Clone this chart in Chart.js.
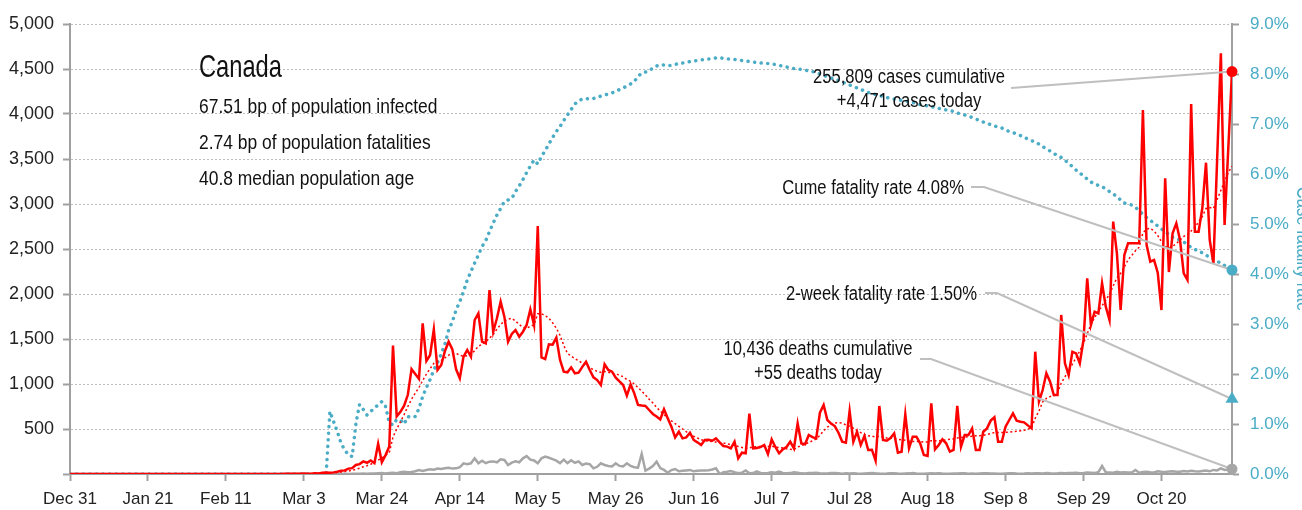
<!DOCTYPE html>
<html>
<head>
<meta charset="utf-8">
<script src="https://cdn.jsdelivr.net/npm/chart.js@4.4.1/dist/chart.umd.min.js"></script>
<style>
  html, body { margin: 0; padding: 0; background: #fff; }
  #wrap { width: 1302px; height: 510px; position: relative; }
</style>
</head>
<body>
<div id="wrap"><canvas id="chart"></canvas></div>
<script>
// x axis: day 0 = Dec 31, one tick every 21 days
const tickLabels = ['Dec 31', 'Jan 21', 'Feb 11', 'Mar 3', 'Mar 24', 'Apr 14', 'May 5', 'May 26',
  'Jun 16', 'Jul 7', 'Jul 28', 'Aug 18', 'Sep 8', 'Sep 29', 'Oct 20'];

const dailyCases = [
  0,0,0,0,0,0,0,0,0,0,
  0,0,0,0,0,0,0,0,0,0,
  0,0,0,0,0,1,0,1,0,0,
  0,1,0,0,0,0,1,0,0,0,
  0,0,0,0,0,0,1,0,0,0,
  0,1,0,1,0,1,0,0,2,4,
  4,3,2,5,3,3,8,6,15,16,
  14,18,25,35,40,60,65,100,110,140,
  125,150,120,335,130,210,305,1426,640,690,
  760,880,1165,1110,1056,1674,1255,1322,1607,1156,
  1211,1367,1470,1385,1163,1063,1304,1378,1304,1711,
  1785,1470,1452,2044,1581,1730,1915,1748,1470,1556,
  1600,1526,1581,1656,1830,1656,2756,1296,1278,1441,
  1437,1515,1267,1137,1130,1185,1119,1126,1190,1248,
  1156,1074,1044,989,1219,1156,1137,1070,1030,989,
  870,996,896,767,760,756,711,667,640,607,
  719,619,526,407,470,396,407,459,378,352,
  322,378,380,370,396,352,311,304,285,359,
  174,237,230,670,285,290,300,322,222,385,
  300,230,274,300,359,285,563,340,330,433,
  410,396,681,767,600,560,533,459,359,348,
  700,359,470,322,422,267,270,148,756,378,
  370,400,452,237,248,663,285,415,415,341,
  211,200,785,274,322,385,341,248,267,756,
  304,433,433,507,267,267,470,507,593,630,
  359,359,526,600,674,593,580,574,540,507,
  1359,804,933,1119,1026,878,878,1767,1230,1100,
  1359,1341,1230,1489,2174,1656,1804,1785,2119,1859,
  1711,2804,2452,1822,2433,2563,2563,2563,2563,4044,
  2544,2359,2378,2237,1822,3285,2244,2674,2785,2600,
  2230,2156,4111,2693,2693,2952,3459,2600,2340,3500,
  4674,2767,3620,4471
];

const avgCases = [
  0,0,0,0,0,0,0,0,0,0,
  0,0,0,0,0,0,0,0,0,0,
  0,0,0,0,0,0,0,0,0,0,
  0,0,0,0,0,0,0,0,0,0,
  0,0,0,0,0,0,0,0,0,0,
  0,0,0,0,0,0,1,1,1,1,
  2,3,3,3,3,4,4,6,8,10,
  12,15,18,22,27,33,42,53,65,80,
  92,108,130,155,175,210,235,410,500,580,
  660,750,830,900,960,1040,1110,1170,1230,1250,
  1260,1290,1320,1340,1340,1320,1310,1315,1330,1370,
  1420,1440,1470,1510,1550,1610,1660,1700,1720,1730,
  1700,1660,1630,1620,1640,1660,1780,1780,1760,1730,
  1680,1620,1540,1430,1340,1310,1280,1260,1230,1210,
  1180,1160,1140,1130,1140,1130,1120,1110,1100,1080,
  1050,1030,1000,960,920,880,830,790,740,700,
  660,620,590,560,530,500,470,445,420,400,
  380,370,365,360,355,350,345,335,325,318,
  305,295,285,290,300,305,305,305,305,310,
  300,295,290,280,275,270,300,315,330,350,
  370,390,430,480,520,550,565,570,565,545,
  530,510,480,460,440,425,420,410,420,410,
  400,400,395,385,380,375,365,360,360,360,
  355,355,370,370,370,375,380,385,390,400,
  405,410,415,420,425,425,430,440,450,460,
  460,460,465,465,470,475,480,485,500,510,
  620,700,800,840,860,870,900,1010,1080,1150,
  1220,1290,1370,1450,1560,1660,1740,1800,1870,1930,
  2000,2090,2180,2230,2300,2380,2430,2480,2520,2680,
  2720,2730,2700,2650,2580,2530,2510,2530,2560,2600,
  2640,2660,2700,2740,2800,2860,2950,2960,2950,3050,
  3150,3250,3350,3420
];

const dailyDeaths = [
  0,0,0,0,0,0,0,0,0,0,
  0,0,0,0,0,0,0,0,0,0,
  0,0,0,0,0,0,0,0,0,0,
  0,0,0,0,0,0,0,0,0,0,
  0,0,0,0,0,0,0,0,0,0,
  0,0,0,0,0,0,0,0,0,0,
  0,0,0,0,0,0,0,0,0,1,
  0,0,1,0,3,1,2,3,4,5,
  2,6,6,8,10,5,12,15,9,19,
  25,20,22,30,44,35,45,52,48,61,
  55,63,70,60,63,75,119,110,119,174,
  119,148,120,137,140,130,163,156,100,126,
  140,130,174,200,160,150,119,174,193,180,
  165,148,120,159,120,152,125,140,100,115,
  110,63,80,119,100,90,85,119,90,85,
  119,90,75,70,222,37,60,89,137,65,
  45,15,44,55,30,35,40,45,30,35,
  40,38,42,50,63,0,20,25,33,20,
  10,15,40,8,10,30,12,8,10,18,
  15,26,12,8,10,20,14,7,5,10,
  12,15,9,6,5,11,10,8,4,7,
  6,9,5,4,6,8,10,7,5,4,
  6,9,8,5,3,6,7,11,6,4,
  3,5,7,6,9,5,4,3,6,5,
  8,7,4,6,2,5,7,9,6,5,
  4,3,6,8,7,5,4,6,9,5,
  7,8,6,10,7,5,8,12,9,11,
  10,14,8,12,17,15,12,20,89,20,
  18,15,24,17,20,18,17,44,15,22,
  25,20,18,30,25,22,28,30,26,24,
  32,28,35,30,27,33,38,30,45,40,
  63,45,50,55
];

// cumulative case fatality rate, %
const fatalityRate = [
  0,0,0,0,0,0,0,0,0,0,
  0,0,0,0,0,0,0,0,0,0,
  0,0,0,0,0,0,0,0,0,0,
  0,0,0,0,0,0,0,0,0,0,
  0,0,0,0,0,0,0,0,0,0,
  0,0,0,0,0,0,0,0,0,0,
  0,0,0,0,0,0,0,0,0,0,
  1.25,1.05,0.85,0.62,0.48,0.38,0.35,1.0,1.39,1.29,
  1.18,1.25,1.32,1.38,1.45,1.35,1.02,0.98,1.09,1.08,
  1.00,1.15,1.13,1.15,1.31,1.55,1.73,1.89,2.08,2.23,
  2.40,2.60,2.88,3.05,3.28,3.45,3.65,3.88,4.05,4.22,
  4.38,4.55,4.67,4.85,5.02,5.18,5.31,5.45,5.48,5.51,
  5.65,5.76,5.89,6.03,6.16,6.28,6.20,6.35,6.47,6.60,
  6.73,6.85,6.95,7.07,7.18,7.29,7.40,7.46,7.50,7.51,
  7.50,7.51,7.53,7.56,7.58,7.60,7.62,7.65,7.69,7.72,
  7.76,7.80,7.85,7.95,8.02,8.04,8.06,8.12,8.16,8.19,
  8.18,8.17,8.17,8.19,8.21,8.22,8.23,8.25,8.26,8.27,
  8.28,8.29,8.30,8.31,8.32,8.33,8.31,8.30,8.30,8.29,
  8.28,8.27,8.26,8.25,8.24,8.23,8.22,8.21,8.21,8.20,
  8.19,8.17,8.16,8.14,8.12,8.11,8.10,8.09,8.08,8.06,
  8.05,8.02,8.00,7.97,7.95,7.92,7.90,7.87,7.84,7.81,
  7.78,7.75,7.72,7.69,7.66,7.63,7.61,7.59,7.57,7.55,
  7.53,7.51,7.50,7.49,7.47,7.46,7.45,7.43,7.41,7.39,
  7.38,7.36,7.35,7.33,7.31,7.30,7.28,7.27,7.25,7.22,
  7.20,7.18,7.16,7.13,7.10,7.07,7.04,7.01,6.99,6.96,
  6.94,6.92,6.88,6.85,6.83,6.80,6.77,6.73,6.70,6.67,
  6.63,6.60,6.55,6.50,6.46,6.41,6.37,6.33,6.28,6.21,
  6.15,6.08,6.02,5.96,5.90,5.84,5.80,5.77,5.75,5.70,
  5.65,5.60,5.55,5.48,5.42,5.40,5.38,5.33,5.27,5.19,
  5.13,5.07,5.02,4.96,4.90,4.85,4.79,4.73,4.70,4.68,
  4.64,4.59,4.53,4.49,4.47,4.42,4.38,4.33,4.30,4.26,
  4.21,4.17,4.13,4.08
];

const twoWeekRate = 1.50;
const cumulativeCases = 255809;
const cumulativeDeaths = 10436;
const countryName = 'Canada';
const infoLines = ['67.51 bp of population infected', '2.74 bp of population fatalities', '40.8 median population age'];

const TEAL = '#4bacc6';
const RED = '#ff0000';
const GREY = '#a6a6a6';
const LEADER = '#bfbfbf';
const AXIS = '#a0a0a0';
const SANS = '"Liberation Sans", Arial, sans-serif';

const lastDay = dailyCases.length - 1;
const days = dailyCases.map((_, i) => i);
const fmt = (n) => n.toLocaleString('en-US');

// no condensed face is installed, so squeeze the regular one sideways
function narrowText(ctx, text, x, y, size, squeeze, align) {
  ctx.save();
  ctx.font = size + 'px ' + SANS;
  ctx.translate(x, y);
  ctx.scale(squeeze, 1);
  ctx.textAlign = align;
  ctx.fillText(text, 0, 0);
  ctx.restore();
}

// leader lines go under the end markers but over the series
const leaderPlugin = {
  id: 'leaders',
  afterDatasetDraw(chart, args) {
    if (args.index !== 4) return;
    const { ctx, scales } = chart;
    const xe = scales.x.getPixelForValue(lastDay);
    const lines = [
      [[1011, 88], [xe, scales.y.getPixelForValue(dailyCases[lastDay])]],
      [[971, 187], [984, 187], [xe, scales.y1.getPixelForValue(fatalityRate[lastDay])]],
      [[985, 293], [997, 293], [xe, scales.y1.getPixelForValue(twoWeekRate)]],
      [[920, 359], [931, 359], [xe, scales.y.getPixelForValue(dailyDeaths[lastDay])]]
    ];
    ctx.save();
    ctx.strokeStyle = LEADER;
    ctx.lineWidth = 2;
    lines.forEach(pts => {
      ctx.beginPath();
      pts.forEach((p, i) => i ? ctx.lineTo(p[0], p[1]) : ctx.moveTo(p[0], p[1]));
      ctx.stroke();
    });
    ctx.restore();
  }
};

const textPlugin = {
  id: 'texts',
  afterDatasetsDraw(chart) {
    const ctx = chart.ctx;
    ctx.save();
    ctx.fillStyle = '#111';
    ctx.textBaseline = 'alphabetic';
    narrowText(ctx, countryName, 199, 77, 32, 0.74, 'left');
    infoLines.forEach((t, i) => narrowText(ctx, t, 199, 113 + i * 36, 21, 0.83, 'left'));

    narrowText(ctx, fmt(cumulativeCases) + ' cases cumulative', 909, 83, 20, 0.83, 'center');
    narrowText(ctx, '+' + fmt(dailyCases[lastDay]) + ' cases today', 909, 107, 20, 0.83, 'center');
    narrowText(ctx, fmt(cumulativeDeaths) + ' deaths cumulative', 818, 355, 20, 0.83, 'center');
    narrowText(ctx, '+' + fmt(dailyDeaths[lastDay]) + ' deaths today', 818, 379, 20, 0.83, 'center');
    narrowText(ctx, 'Cume fatality rate ' + fatalityRate[lastDay].toFixed(2) + '%', 964, 194, 20, 0.83, 'right');
    narrowText(ctx, '2-week fatality rate ' + twoWeekRate.toFixed(2) + '%', 977, 300, 20, 0.83, 'right');

    // right axis title, cut by the page edge as in the original
    ctx.translate(1297, 249);
    ctx.rotate(Math.PI / 2);
    ctx.fillStyle = TEAL;
    narrowText(ctx, 'Case fatality rate', 0, 0, 20, 0.83, 'center');
    ctx.restore();
  }
};

const endPoint = (y, color, axis, style, r) => ({
  data: [{ x: lastDay, y: y }],
  yAxisID: axis,
  showLine: false,
  pointStyle: style,
  pointRadius: r,
  pointBackgroundColor: color,
  pointBorderWidth: 0,
  clip: false
});

new Chart(document.getElementById('chart'), {
  type: 'line',
  data: {
    labels: days,
    datasets: [
      endPoint(dailyCases[lastDay], RED, 'y', 'circle', 5.5),
      endPoint(fatalityRate[lastDay], TEAL, 'y1', 'circle', 5.5),
      endPoint(twoWeekRate, TEAL, 'y1', 'triangle', 7.5),
      endPoint(dailyDeaths[lastDay], GREY, 'y', 'circle', 5.5),
      { label: 'Daily cases', data: dailyCases, yAxisID: 'y', borderColor: RED, borderWidth: 2.5, pointRadius: 0 },
      { label: '7-day average', data: avgCases, yAxisID: 'y', borderColor: RED, borderWidth: 1.5, borderDash: [2, 2.5], pointRadius: 0 },
      { label: 'Daily deaths', data: dailyDeaths, yAxisID: 'y', borderColor: GREY, borderWidth: 2.5, pointRadius: 0 },
      { label: 'Case fatality rate', data: fatalityRate, yAxisID: 'y1', borderColor: TEAL, borderWidth: 3.5,
        borderDash: [0.1, 6.5], borderCapStyle: 'round', pointRadius: 0 }
    ]
  },
  options: {
    responsive: true,
    maintainAspectRatio: false,
    animation: false,
    devicePixelRatio: 1,
    layout: { padding: { top: 24, left: 0, right: 0, bottom: 0 } },
    plugins: { legend: { display: false }, tooltip: { enabled: false } },
    elements: { line: { tension: 0 } },
    scales: {
      x: {
        type: 'linear', min: 0, max: lastDay,
        ticks: { stepSize: 21, includeBounds: false, autoSkip: false, maxRotation: 0, padding: 8,
          color: '#222', font: { family: SANS, size: 17 },
          callback: (v) => tickLabels[v / 21] },
        grid: { drawOnChartArea: false, tickLength: 7, tickColor: AXIS, tickWidth: 2 },
        border: { color: AXIS, width: 2 },
        afterFit: (s) => { s.height = 36; }
      },
      y: {
        position: 'left', min: 0, max: 5000,
        ticks: { stepSize: 500, padding: 9, color: '#222', font: { family: SANS, size: 18 },
          callback: (v) => v === 0 ? '' : fmt(v) },
        grid: { color: '#bdbdbd', lineWidth: 1, tickLength: 7, tickColor: AXIS, tickWidth: 2 },
        border: { color: AXIS, width: 2, dash: [2, 2] },
        afterFit: (s) => { s.width = 70; }
      },
      y1: {
        position: 'right', min: 0, max: 9,
        ticks: { stepSize: 1, padding: 11, color: TEAL, font: { family: SANS, size: 17 },
          callback: (v) => v.toFixed(1) + '%' },
        grid: { drawOnChartArea: false, tickLength: 7, tickColor: AXIS, tickWidth: 2 },
        border: { color: AXIS, width: 2 },
        afterFit: (s) => { s.width = 70; }
      }
    }
  },
  plugins: [leaderPlugin, textPlugin]
});
</script>
</body>
</html>
